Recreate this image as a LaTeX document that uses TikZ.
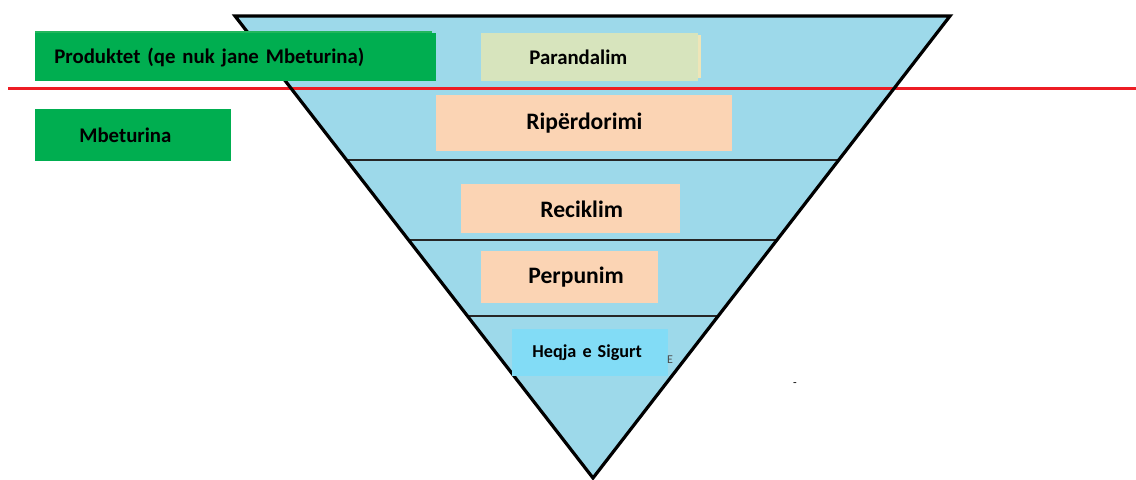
\documentclass[tikz,border=0pt]{standalone}
\usepackage{fontspec}
\setmainfont{Carlito}
\usetikzlibrary{calc,positioning}
\definecolor{funnelblue}{HTML}{9DD9EA}
\definecolor{labelgreen}{HTML}{00AE50}
\definecolor{shadegreen}{HTML}{22B65C}
\definecolor{stepgreen}{HTML}{D7E4BD}
\definecolor{shadeyellow}{HTML}{EEE5B8}
\definecolor{steppeach}{HTML}{FBD4B4}
\definecolor{stepcyan}{HTML}{82DCF6}
\definecolor{cutred}{HTML}{ED1C24}
\tikzset{
	box/.style ={rectangle, inner ysep=0pt, anchor=north west, font=\bfseries, align=left},
	greenbox/.style ={box, fill=labelgreen, font=\fontsize{10.4}{12}\selectfont\bfseries},
	peachbox/.style ={box, fill=steppeach, font=\fontsize{11.8}{14}\selectfont\bfseries},
	edgeline/.style ={line width=1.6pt, line join=miter},
	divider/.style ={line width=0.7pt, black!85}
}

\begin{document}
\begin{tikzpicture}[x=0.5pt,y=-0.5pt]
    \useasboundingbox (0,0) rectangle (1136,479);
    \coordinate (tl) at (235,16);
    \coordinate (tr) at (950,16);
    \coordinate (apex) at (593,478);
    \fill[funnelblue] (tl) -- (tr) -- (apex) -- cycle;
    \foreach \y in {160,240,316}
        \draw[divider] ($(tl)!{(\y-16)/462}!(apex)$) -- ($(tr)!{(\y-16)/462}!(apex)$);
    \draw[cutred, line width=1.5pt] (8,88) -- (1140,88);
    \draw[edgeline] (tl) -- (tr) -- (apex) -- cycle;
    
    \fill[shadegreen] (35,31) rectangle (432,78);
    \fill[shadeyellow] (484,35) rectangle (701,78);
    \node[greenbox, minimum height=24pt, text width=181.5pt, inner xsep=9.5pt] (prod) at (35,33) {Produktet (qe nuk jane Mbeturina)};
    \node[greenbox, minimum height=26pt, text width=54pt, inner xsep=22pt] (mbet) at (35,109) {Mbeturina};
    \node[greenbox, fill=stepgreen, minimum height=24pt, text width=60.5pt, inner xsep=24pt] (paran) at (481,33) {Parandalim};
    \node[peachbox, minimum width=148pt, minimum height=28pt, inner xsep=0pt, align=center] (riperd) at (436,95) {Ripërdorimi};
    \node[peachbox, minimum height=24.5pt, text width=30.5pt, inner xsep=39.5pt] (recikl) at (461,184) {Reciklim};
    \node[peachbox, minimum height=26pt, text width=41.5pt, inner xsep=23.5pt] (perpun) at (481,251) {Perpunim};
    \node[box, fill=stepcyan, font=\fontsize{9.1}{11}\selectfont\bfseries, minimum height=23.5pt, text width=58pt, inner xsep=10pt] (heqja) at (512,329) {Heqja e Sigurt};
    
    \node[font=\fontsize{6}{6}\selectfont, text=black!70, inner sep=0pt] (stray1) at (670,360) {E};
    \node[font=\fontsize{6}{6}\selectfont, inner sep=0pt] (stray2) at (795,385) {-};
\end{tikzpicture}
\end{document}
